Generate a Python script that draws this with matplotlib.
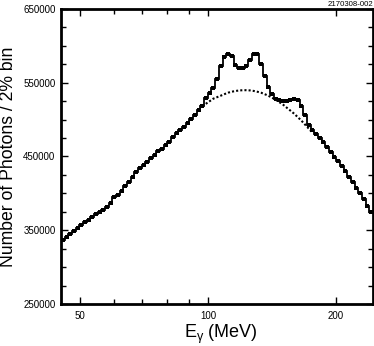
import numpy as np
import matplotlib
matplotlib.use("Agg")
import matplotlib.pyplot as plt
from matplotlib.ticker import FixedLocator, NullFormatter, MultipleLocator

plt.rcParams['font.family'] = ['Liberation Sans', 'DejaVu Sans']
plt.rcParams['mathtext.fontset'] = 'custom'
plt.rcParams['mathtext.rm'] = 'Liberation Sans'

# 2% bins in photon energy (MeV)
bin_lo, bin_hi, n_bins = 45.1, 244.4, 85

# photon counts per bin
counts = [337200, 341200, 344600, 348600, 352700, 356800, 360800, 364200, 367600, 371600,
          375000, 377700, 381800, 386500, 394600, 397300, 402700, 409500, 414900, 422300,
          428400, 433800, 437800, 443200, 448600, 452700, 456800, 460800, 465500, 470300,
          476400, 481800, 486500, 490500, 495300, 500700, 506100, 512800, 518900, 529100,
          535800, 543200, 554700, 573000, 585100, 588500, 586500, 573600, 570300, 570300,
          572300, 581100, 589200, 589200, 575700, 559500, 544600, 535100, 528400, 526400,
          525700, 524700, 527000, 527700, 526400, 518200, 506100, 493200, 485800, 480400,
          475000, 470300, 462800, 456100, 449300, 443900, 437200, 429700, 421600, 414900,
          407400, 400000, 391900, 383100, 374300]

# smooth background under the peaks, bins 38..68
bkg_first, bkg_last = 38, 68
background = [518200, 521600, 525000, 528400, 530400, 532400, 534500, 536500, 537800, 538800,
              539500, 539900, 539900, 539600, 538900, 537800, 536500, 534500, 532400, 529700,
              527000, 523600, 520300, 516200, 512200, 508100, 503400, 498600, 493200, 487800,
              482400]

edges = np.geomspace(bin_lo, bin_hi, n_bins + 1)
centers = np.sqrt(edges[:-1] * edges[1:])

fig = plt.figure(figsize=(3.74, 3.46), dpi=100)
ax = fig.add_axes([61/374, 42/346, 312/374, 295/346])

ax.stairs(counts, edges, baseline=None, color='black', lw=1.3)
ax.plot(centers, counts, 's', color='black', ms=3.2, mew=0)
ax.plot(centers[bkg_first:bkg_last + 1], background, color='black', lw=1.5,
        linestyle=(0, (1, 1)), dash_capstyle='butt')

ax.set_xscale('log')
ax.set_xlim(bin_lo, bin_hi)
ax.set_ylim(250000, 650000)
ax.set_xticks([50, 100, 200])
ax.set_xticklabels(['50', '100', '200'])
ax.xaxis.set_minor_locator(FixedLocator([60, 70, 80, 90]))
ax.xaxis.set_minor_formatter(NullFormatter())
ax.set_yticks([250000, 350000, 450000, 550000, 650000])
ax.set_yticklabels(['250000', '350000', '450000', '550000', '650000'])
ax.yaxis.set_minor_locator(MultipleLocator(25000))

ax.tick_params(which='both', direction='in', top=True, right=True, width=1.0, labelsize=7)
ax.tick_params(which='major', length=5)
ax.tick_params(which='minor', length=3.3)
ax.tick_params(axis='x', pad=5)
ax.tick_params(axis='y', pad=4)
for s in ax.spines.values():
    s.set_linewidth(2)

fig.text(13.5/374, 1 - 157/346, 'Number of Photons / 2% bin', rotation=90,
         rotation_mode='anchor', ha='center', va='baseline', fontsize=12.7)
fig.text(221/374, 1 - 338/346, r'E$_{\mathregular{\gamma}}$ (MeV)',
         ha='center', va='baseline', fontsize=13)
fig.text(373/374, 1 - 0.5/346, '2170308-002', ha='right', va='top', fontsize=5.6)

fig.savefig("out.png", dpi=100)
